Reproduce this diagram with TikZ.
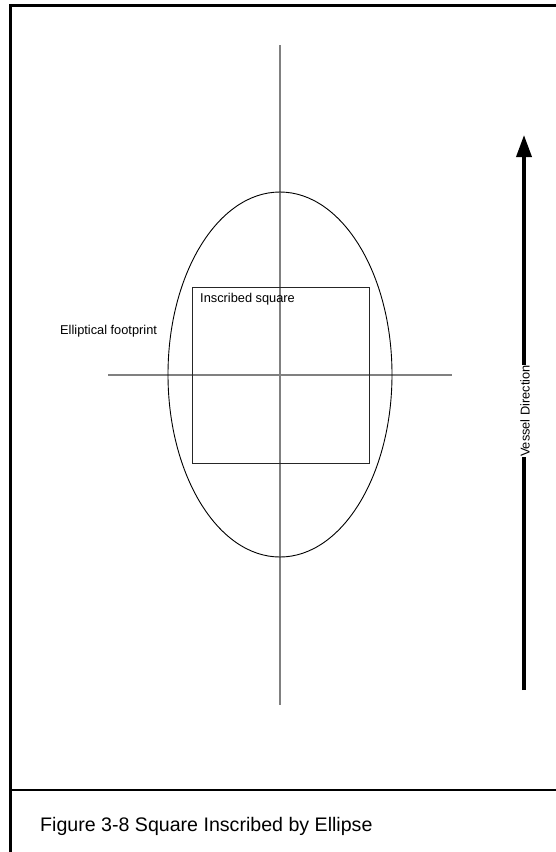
\documentclass[tikz,border=0pt]{standalone}
\usepackage{fontspec}
\setmainfont{Liberation Sans}
\usetikzlibrary{arrows.meta,positioning,calc}

\begin{document}
\begin{tikzpicture}[
        x=1pt, y=-1pt,
        frame/.style={draw=black, line width=3pt},
        axis/.style={draw=gray, line width=1.2pt},
        label/.style={font=\fontsize{12.8}{14}\selectfont, inner sep=1pt},
        arrow/.style={-{Triangle[width=15pt,length=22pt]}, line width=3.5pt}
    ]
        \useasboundingbox (0,0) rectangle (556,852);
        % frame and caption
        \draw[frame] (560,5.5) -- (10,5.5) -- (10,856);
        \draw[draw=black, line width=2.5pt] (10,790) -- (560,790);
        \node[anchor=west, font=\fontsize{19.6}{22}\selectfont, inner sep=0pt] (cap) at (40,826) {Figure 3-8 Square Inscribed by Ellipse};
        % axes
        \coordinate (vtop) at (280,45);
        \coordinate (vbot) at (280,705);
        \coordinate (hleft) at (108,375);
        \coordinate (hright) at (452,375);
        \draw[axis] (vtop) -- (vbot);
        \draw[axis] (hleft) -- (hright);
        % footprint and square
        \draw[line width=0.9pt] (280,374.5) ellipse [x radius=112, y radius=182.5];
        \node[draw=black!85, line width=1pt, minimum width=177pt, minimum height=176pt, anchor=north west, inner sep=0pt] (sq) at (192,287) {};
        \node[label, anchor=north west] (sqlbl) at ($(sq.north west)+(7,5)$) {Inscribed square};
        \node[label, anchor=west] (fplbl) at (59,331) {Elliptical footprint};
        % vessel direction
        \coordinate (vdbot) at (524,690);
        \coordinate (vdtop) at (524,135);
        \draw[arrow] (vdbot) -- (vdtop);
        \node[label, fill=white, rotate=90, inner sep=0.5pt] (vd) at (525,411) {Vessel Direction};
    \end{tikzpicture}
\end{document}
